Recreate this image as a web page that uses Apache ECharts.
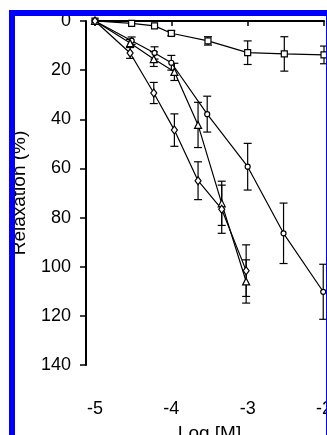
<!DOCTYPE html>
<html>
<head>
<meta charset="utf-8">
<script src="https://cdn.jsdelivr.net/npm/echarts@6/dist/echarts.min.js"></script>
<style>
  html, body { margin: 0; padding: 0; background: #fff; overflow: hidden; }
  #chart { width: 327px; height: 435px; }
  #frame {
    position: absolute; left: 9px; top: 10px; width: 311px; height: 500px;
    border: 6px solid #0000ff; pointer-events: none;
  }
</style>
</head>
<body>
<div id="chart"></div>
<div id="frame"></div>
<script>
// squares (control)
const xSq = [-5, -4.52, -4.22, -4, -3.52, -3, -2.52, -2]
const ySq = [0, 1, 2, 5, 8.1, 12.9, 13.4, 13.8]
const eSq = [0, 0, 0, 1, 1.7, 4.8, 7, 3.6]

// circles
const xCi = [-5, -4.52, -4.22, -4, -3.53, -3, -2.53, -2.01]
const yCi = [0, 8, 13, 17, 37.9, 59.3, 86.4, 110.2]
const eCi = [0, 1.5, 2.5, 3, 7.3, 9.5, 12.3, 11.2]

// triangles and diamonds share the doses
const xTD = [-5, -4.54, -4.23, -3.96, -3.65, -3.34, -3.02]
const yTr = [0, 9, 15.5, 20.7, 42.3, 74.2, 106]
const eTr = [0, 1.5, 3, 3.5, 9.2, 9, 8.8]
const yDi = [0, 13, 29.3, 44.4, 65, 76.6, 101.6]
const eDi = [0, 2.2, 4.3, 6.6, 7.7, 9.8, 10.5]

const xTicks = [-5, -4, -3, -2]
const yTicks = [0, 20, 40, 60, 80, 100, 120, 140]

function pts(xs, ys) {
  return xs.map((x, i) => [x, ys[i]])
}
function bars(xs, ys, es) {
  const out = []
  xs.forEach((x, i) => {
    if (es[i] > 0) out.push([x, ys[i] - es[i], ys[i] + es[i]])
  })
  return out
}

function errorBar(params, api) {
  const x = api.value(0)
  const a = api.coord([x, api.value(1)])
  const b = api.coord([x, api.value(2)])
  const w = 4
  const st = { stroke: '#000', lineWidth: 1.2 }
  return {
    type: 'group',
    children: [
      { type: 'line', shape: { x1: a[0], y1: a[1], x2: b[0], y2: b[1] }, style: st },
      { type: 'line', shape: { x1: a[0] - w, y1: a[1], x2: a[0] + w, y2: a[1] }, style: st },
      { type: 'line', shape: { x1: b[0] - w, y1: b[1], x2: b[0] + w, y2: b[1] }, style: st }
    ]
  }
}

function lineSeries(data, symbol, size) {
  return {
    type: 'line',
    data: data,
    symbol: symbol,
    symbolSize: size,
    showAllSymbol: true,
    z: 3,
    lineStyle: { color: '#000', width: 1.2 },
    itemStyle: { color: '#fff', borderColor: '#000', borderWidth: 1.2 },
    emphasis: { disabled: true }
  }
}

function barSeries(data) {
  return {
    type: 'custom',
    data: data,
    renderItem: errorBar,
    z: 2,
    clip: false
  }
}

const chart = echarts.init(document.getElementById('chart'))
chart.setOption({
  animation: false,
  grid: { left: 95, right: 3, top: 21, bottom: 70, containLabel: false, outerBoundsMode: 'none' },
  textStyle: { fontFamily: 'Liberation Sans, Arial, sans-serif' },
  xAxis: {
    type: 'value',
    min: -5,
    max: -2,
    interval: 1,
    offset: 14,
    name: 'Log [M]',
    nameLocation: 'middle',
    nameGap: 45,
    nameTextStyle: { color: '#000', fontSize: 19 },
    axisLine: { lineStyle: { color: '#000', width: 2 } },
    axisTick: { length: 5, lineStyle: { color: '#000', width: 1.5 } },
    axisLabel: {
      color: '#000', fontSize: 18, margin: 21,
      formatter: v => xTicks.indexOf(v) >= 0 ? String(v) : ''
    },
    splitLine: { show: false }
  },
  yAxis: {
    type: 'value',
    inverse: true,
    min: 0,
    max: 140,
    interval: 20,
    offset: 9,
    name: 'Relaxation (%)',
    nameLocation: 'middle',
    nameGap: 57,
    nameTextStyle: { color: '#000', fontSize: 19 },
    axisLine: { show: true, lineStyle: { color: '#000', width: 2 } },
    axisTick: { show: true, length: 6, lineStyle: { color: '#000', width: 1.5 } },
    axisLabel: {
      color: '#000', fontSize: 18, margin: 15,
      formatter: v => yTicks.indexOf(v) >= 0 ? String(v) : ''
    },
    splitLine: { show: false }
  },
  series: [
    barSeries(bars(xSq, ySq, eSq)),
    barSeries(bars(xCi, yCi, eCi)),
    barSeries(bars(xTD, yTr, eTr)),
    barSeries(bars(xTD, yDi, eDi)),
    lineSeries(pts(xSq, ySq), 'rect', 6),
    lineSeries(pts(xCi, yCi), 'circle', 5),
    lineSeries(pts(xTD, yTr), 'triangle', 7),
    lineSeries(pts(xTD, yDi), 'diamond', [6, 8])
  ]
})
</script>
</body>
</html>
